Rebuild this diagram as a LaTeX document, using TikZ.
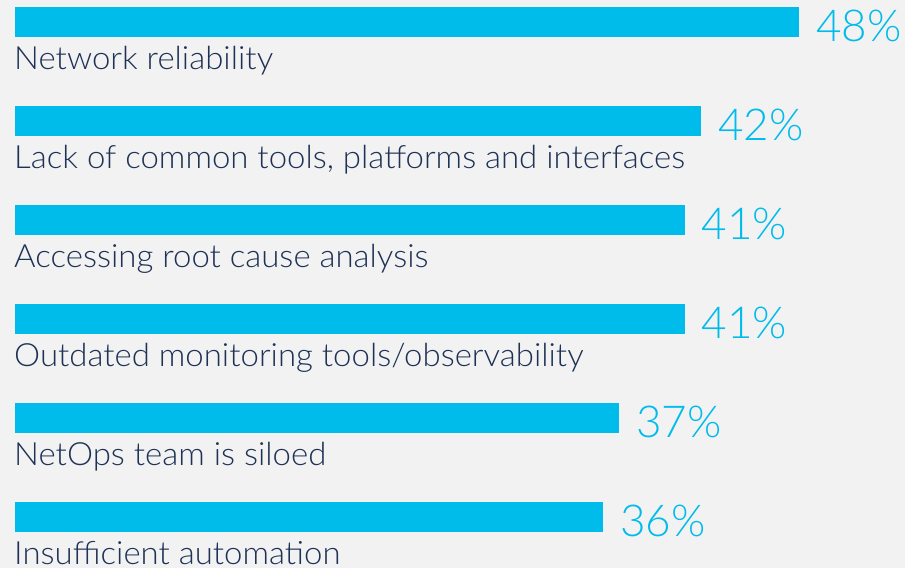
\documentclass[tikz,border=0pt]{standalone}
\usepackage{fontspec}
\setmainfont{Lato Light}
\newfontfamily\labfont{Lato Light}[FakeStretch=1.03]
\definecolor{bg}{RGB}{242,242,242}
\definecolor{barc}{RGB}{0,188,235}
\definecolor{labc}{RGB}{30,50,85}
\begin{document}
\begin{tikzpicture}[x=1pt,y=-1pt,
  bar/.style={fill=barc,draw=none},
  lab/.style={anchor=base west,inner sep=0pt,text=labc,font=\labfont\fontsize{32}{32}\selectfont},
  pct/.style={anchor=base west,inner sep=0pt,text=barc,font=\fontsize{44}{44}\selectfont}]
\fill[bg] (0,0) rectangle (905,568);
\useasboundingbox (0,0) rectangle (905,568);
\foreach \i/\p/\t in {0/48/{Network reliability},1/42/{Lack of common tools, platforms and interfaces},2/41/{Accessing root cause analysis},3/41/{Outdated monitoring tools/observability},4/37/{NetOps team is siloed},5/36/{Insufficient automation}}{
  \pgfmathsetmacro{\yt}{7+99*\i}
  \pgfmathsetmacro{\xr}{15+16.33*\p}
  \path[bar] (15,\yt) rectangle (\xr,\yt+30);
  \node[lab] (l\i) at (14,\yt+62) {\t};
  \node[pct] (p\i) at (\xr+17,\yt+34) {\p\%};
}
\end{tikzpicture}
\end{document}
